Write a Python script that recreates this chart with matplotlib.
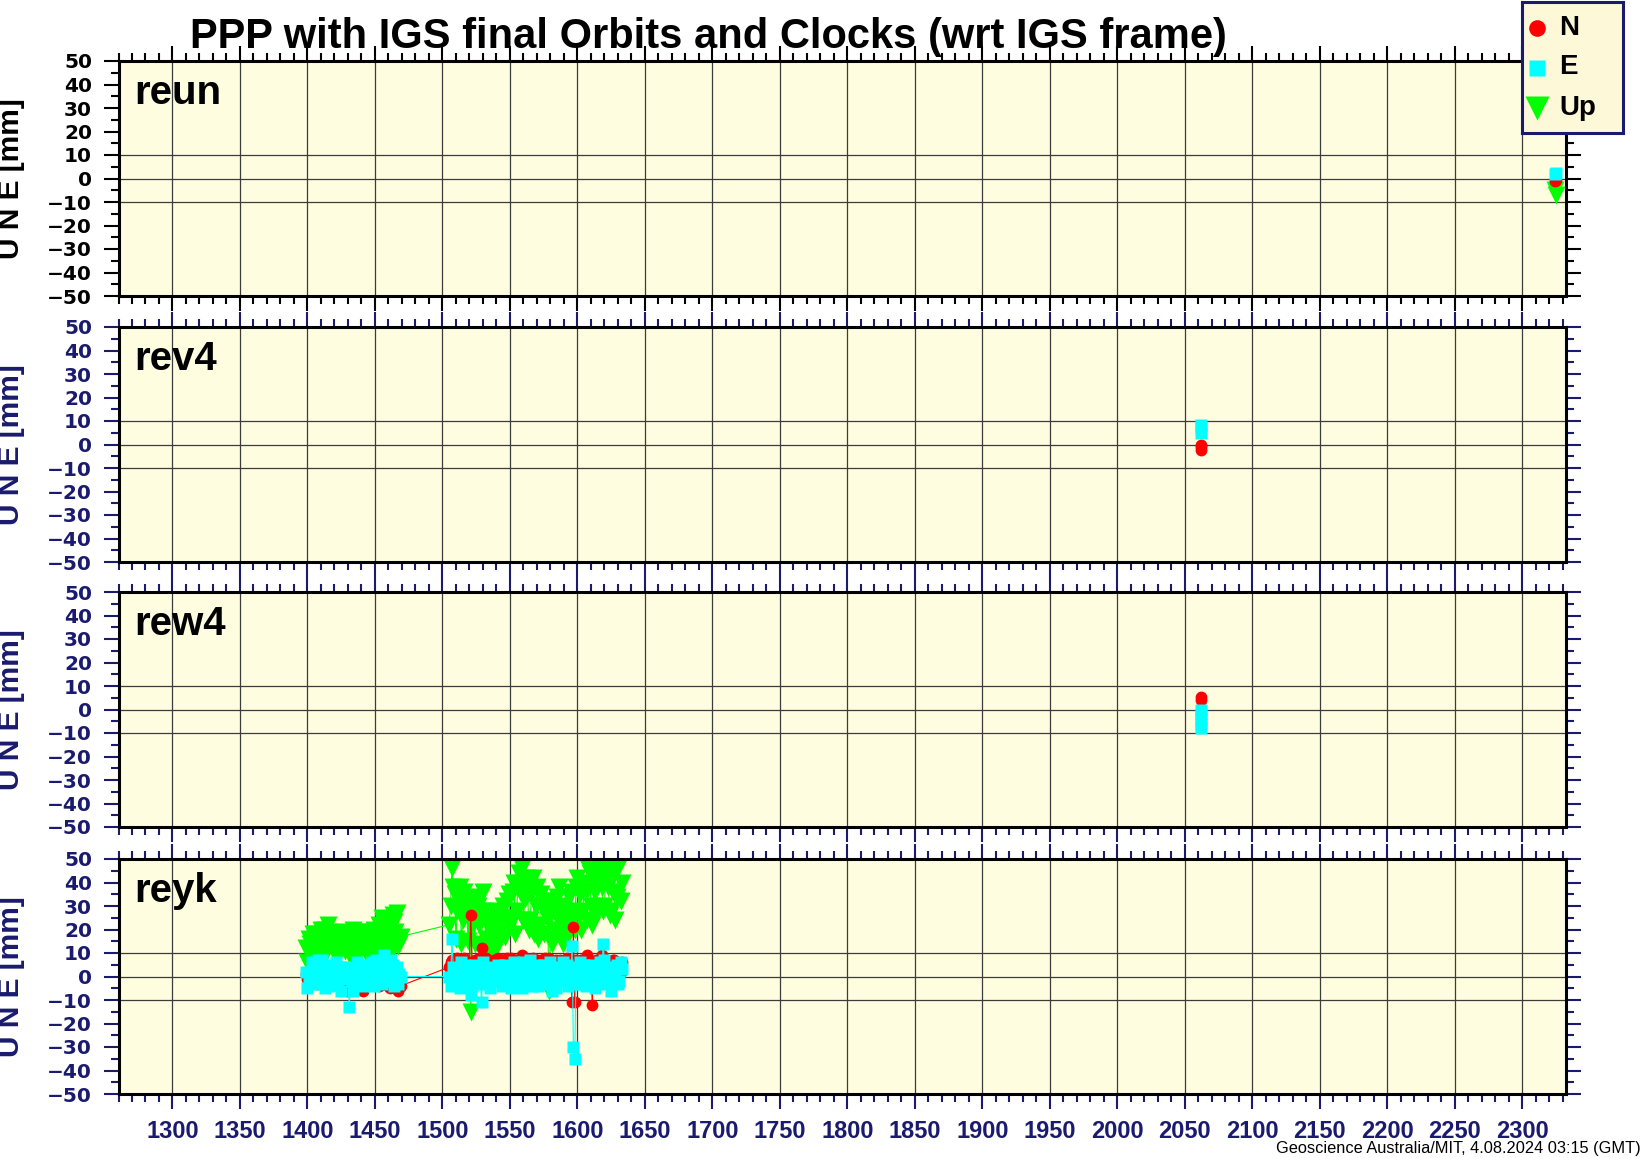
import numpy as np
import matplotlib
matplotlib.use('Agg')
import matplotlib.pyplot as plt
from matplotlib.ticker import MultipleLocator

# GPS week / offsets in mm
stations = ['reun', 'rev4', 'rew4', 'reyk']

reun_wk = [2324, 2325]
reun_n = [-1, -0.5]
reun_e = [2, 2.5]
reun_up = [-5, -7]

rev4_wk = [2062, 2062, 2062]
rev4_n = [-2.5, -1, 0]
rev4_e = [5, 7, 8.5]
rev4_up = [np.nan, np.nan, np.nan]

rew4_wk = [2062, 2062, 2062, 2062, 2062]
rew4_n = [4, 5.5, np.nan, np.nan, np.nan]
rew4_e = [0, -2, -4, -6, -8]
rew4_up = [np.nan, np.nan, np.nan, np.nan, np.nan]

# weekly solutions, weeks 1399-1469 and 1505-1633
reyk_wk = list(range(1399, 1470)) + list(range(1505, 1634))
reyk_up = [12, 6, 16, 14, 8, 18, 14, 9, 18, 16,
           11, 20, 15, 17, 20, 10, 22, 19, 17, 12,
           13, 18, 16, 8, 11, 15, 14, 19, 18, 11,
           12, 16, 15, 8, 17, 20, 11, 15, 16, 10,
           19, 17, 14, 19, 10, 14, 17, 9, 15, 18,
           20, 11, 16, 19, 22, 13, 25, 23, 18, 20,
           12, 17, 21, 10, 26, 23, 19, 27, 13, 14,
           17,
           22, 30, 46, 38, 35, 16, 28, 33, 38, 14,
           24, 36, 32, 27, 15, 30, -15, 22, 26, 14,
           34, 30, 22, 26, 13, 36, 28, 16, 12, 24,
           20, 13, 10, 28, 24, 16, 14, 26, 18, 25,
           30, 17, 19, 32, 35, 22, 25, 36, 40, 18,
           28, 40, 44, 35, 46, 24, 33, 42, 38, 20,
           24, 36, 42, 18, 30, 38, 16, 22, 35, 30,
           18, 28, 32, 24, -6, 16, 14, 32, 28, 20,
           34, 38, 24, 18, 14, 28, 30, 17, 22, 34,
           36, 24, 28, 20, 38, 42, 26, 35, 20, 28,
           40, 36, 24, 46, 44, 30, 22, 40, 36, 26,
           48, 44, 42, 38, 28, 30, 46, 42, 38, 26,
           28, 36, 44, 24, 34, 46, 48, 32, 40]
reyk_n = [1, -1, -2, 2, 3, -2, 0, 4, -3, 0,
          2, -3, -1, 1, 4, -2, 1, 3, -2, 0,
          0, -1, 3, 2, -4, -3, -1, 1, 2, -4,
          -6, -2, -3, -5, 0, -1, -5, -3, -2, 0,
          1, -4, -6, -2, -3, 1, 0, -3, 2, -1,
          -1, 0, 3, -2, -4, 1, 0, -3, 2, -1,
          -2, -4, -5, 0, 1, -2, -3, -5, -6, -3,
          -4,
          4, 6, 7, 3, 5, 7, 8, 4, 6, 5,
          3, 8, 7, 2, 5, 6, 26, 4, 6, 7,
          4, 5, 8, 3, 12, 6, 5, 8, 7, 4,
          3, 2, 6, 7, 5, 5, 8, 3, 4, 6,
          7, 4, 6, 8, 3, 5, 8, 2, 5, 6,
          7, 7, 4, 3, 9, 5, 6, 8, 3, 4,
          5, 6, 8, 2, 4, 7, 6, 5, 7, 3,
          3, 8, 5, 4, 8, 6, 4, 5, 6, 7,
          5, 3, 7, 6, 3, 4, 6, 8, 4, 2,
          5, -11, 21, -11, 7, 4, 5, 6, 7, 3,
          4, 8, 9, 5, 6, 2, -12, 6, 5, 7,
          7, 4, 3, 9, 8, 5, 5, 3, 6, 6,
          4, 7, 7, 4, 5, 6, 3, 2, 6]
reyk_e = [2, -5, -3, 1, 6, 3, 0, -2, -3, 7,
          4, 0, 7, 2, -5, 5, 1, -4, 3, 4,
          -1, 1, 6, -3, 0, 4, -6, 3, 2, -1,
          4, 0, -13, 2, -2, -6, 3, -1, 6, 2,
          1, 5, -4, 0, 5, -2, 0, 3, 2, 6,
          -4, -1, 7, 2, 1, 4, -3, 0, 9, 5,
          3, 1, -2, 7, 5, -4, 2, 4, -3, 1,
          0,
          0, -4, 16, 4, -2, 1, 3, -1, -5, 6,
          1, -2, 5, 3, -4, 0, -8, -4, 2, 5,
          -1, 2, 4, -3, -11, 6, 0, 1, 3, -1,
          -5, 4, 2, -2, -2, 3, 5, 0, 0, -4,
          -3, 5, 3, 2, 1, -3, -5, 1, 6, -2,
          -1, 4, 2, 0, -5, 6, 4, -1, 0, 3,
          7, -4, -2, 2, 3, 5, -4, -3, 1, 0,
          5, 4, -3, -2, 2, 6, -6, 1, 0, -5,
          4, 3, -2, -1, 6, 2, 1, 5, -4, 0,
          -2, 13, -30, -35, 4, -3, 2, 6, -3, 1,
          5, -4, 0, 2, -2, 5, 4, -1, -5, 3,
          1, 0, 6, -3, 14, 7, -1, 2, 3, -2,
          -6, 4, 2, 0, 5, -3, -2, 6, 3]

data = {
    'reun': (reun_wk, reun_n, reun_e, reun_up),
    'rev4': (rev4_wk, rev4_n, rev4_e, rev4_up),
    'rew4': (rew4_wk, rew4_n, rew4_e, rew4_up),
    'reyk': (reyk_wk, reyk_n, reyk_e, reyk_up),
}

yticks = list(range(-50, 51, 10))

W, H = 1644, 1158
navy = '#1a1a6e'
bg = '#fffde0'
gridc = '#3c3c3c'
hel = 'Liberation Sans'

fig = plt.figure(figsize=(W / 100, H / 100), dpi=100)

tops = [61, 327, 592, 859]
for i, name in enumerate(stations):
    wk, n, e, up = data[name]
    ax = fig.add_axes([118.5 / W, 1 - (tops[i] + 235) / H, 1447 / W, 235 / H])
    ax.set_facecolor(bg)
    ax.set_xlim(1260, 2332)
    ax.set_ylim(-50, 50)
    col = 'black' if i == 0 else navy

    for x in range(1300, 2301, 50):
        ax.axvline(x, color=gridc, lw=0.9, zorder=1)
    for y in (-10, 0, 10):
        ax.axhline(y, color=gridc, lw=0.9, zorder=1)

    ax.plot(wk, up, color='#00ff00', lw=0.8, marker='v', ms=13.5, mec='none', zorder=2)
    ax.plot(wk, n, color='#ff0000', lw=0.8, marker='o', ms=8.5, mec='none', zorder=3)
    ax.plot(wk, e, color='#00ffff', lw=0.8, marker='s', ms=8, mec='none', zorder=4)

    ax.xaxis.set_major_locator(MultipleLocator(50))
    ax.xaxis.set_minor_locator(MultipleLocator(10))
    ax.yaxis.set_minor_locator(MultipleLocator(5))
    ax.set_yticks(yticks)
    ax.set_yticklabels([str(v).replace('-', '\u2212') for v in yticks],
                       fontsize=14.5, fontweight='bold', color=col, family='DejaVu Sans')
    ax.tick_params(which='both', direction='out', top=True, right=True,
                   color=col, width=1.5)
    ax.tick_params(which='major', length=11)
    ax.tick_params(which='minor', length=5.5)
    ax.tick_params(axis='y', pad=8)
    if i == 3:
        ax.tick_params(axis='x', labelbottom=True, pad=8)
        for lab in ax.get_xticklabels():
            lab.set_family(hel)
            lab.set_fontsize(17)
            lab.set_fontweight('bold')
            lab.set_color(navy)
    else:
        ax.tick_params(axis='x', labelbottom=False)

    for s in ax.spines.values():
        s.set_linewidth(2.2)
        s.set_color('black')
        s.set_zorder(6)

    ax.text(0.011, 0.815, name, transform=ax.transAxes, family=hel,
            fontsize=29, fontweight='bold', va='baseline', ha='left', zorder=7)
    fig.text(11 / W, 1 - (tops[i] + 117.5) / H, 'U N E [mm]', rotation=90,
             family=hel, fontsize=21.5, fontweight='bold', color=col,
             ha='center', va='center')

fig.text(708 / W, 1 - 48 / H, 'PPP with IGS final Orbits and Clocks (wrt IGS frame)',
         family=hel, fontsize=30, fontweight='bold', ha='center', va='baseline')

fig.text(1641 / W, 1 - 1153 / H, 'Geoscience Australia/MIT, 4.08.2024 03:15 (GMT)',
         family=hel, fontsize=11.8, ha='right', va='baseline')

# legend box
lg = fig.add_axes([1522 / W, 1 - 133 / H, 101 / W, 131 / H])
lg.set_facecolor('#fdf8d8')
lg.set_xlim(0, 1)
lg.set_ylim(0, 1)
lg.set_xticks([])
lg.set_yticks([])
for s in lg.spines.values():
    s.set_linewidth(2.2)
    s.set_color(navy)
leg_rows = [('N', 'o', '#ff0000', 12), ('E', 's', '#00ffff', 11), ('Up', 'v', '#00ff00', 17)]
for (lab, mk, c, ms), yy in zip(leg_rows, [0.80, 0.50, 0.19]):
    lg.plot([0.15], [yy], marker=mk, color=c, ms=ms, mec='none', ls='none')
    lg.text(0.37, yy, lab, family=hel, fontsize=20, fontweight='bold',
            va='center', ha='left')

fig.savefig('out.png', dpi=100)
